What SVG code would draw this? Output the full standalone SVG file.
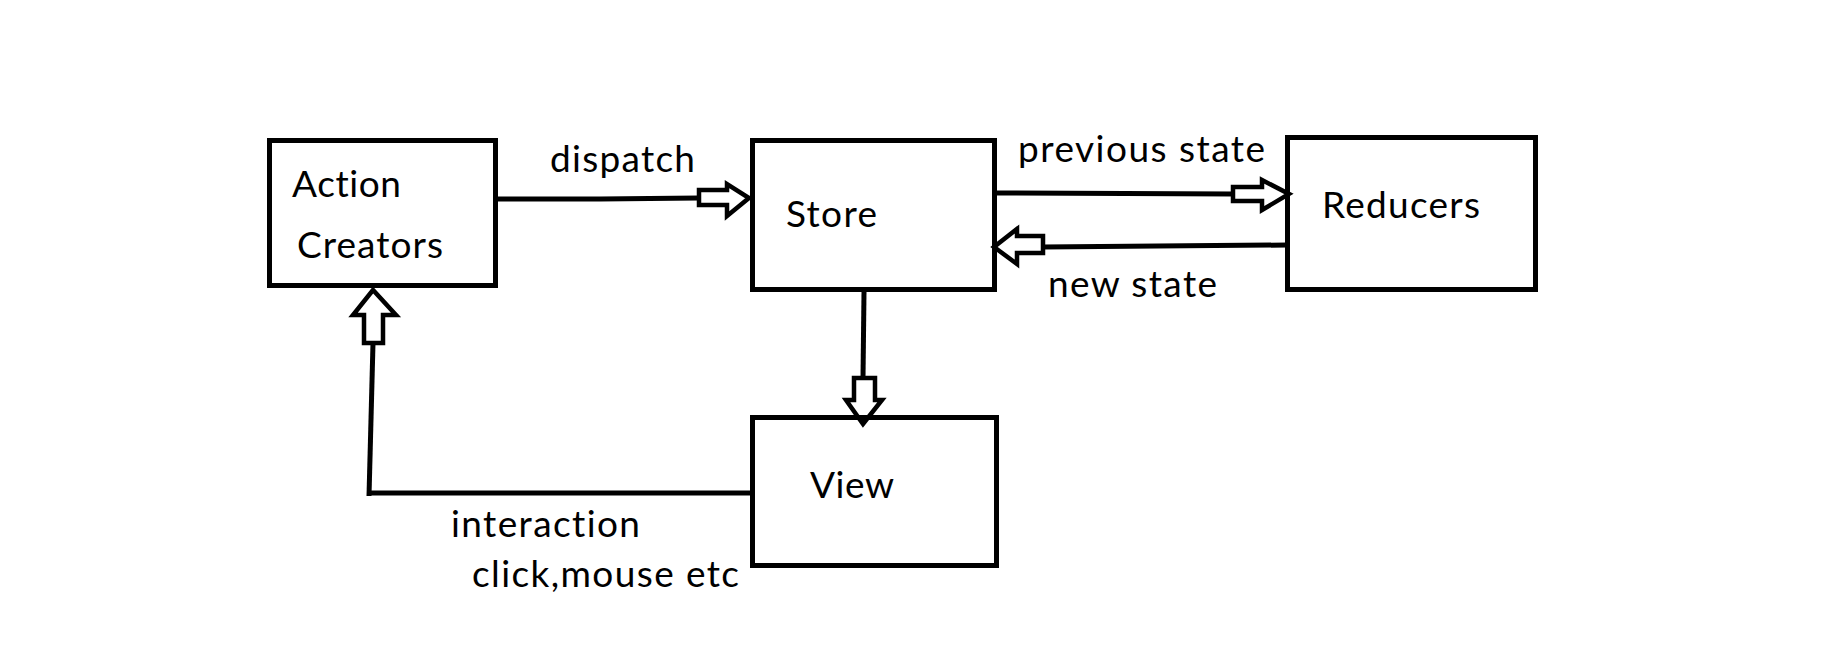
<svg xmlns="http://www.w3.org/2000/svg" width="1833" height="648" viewBox="0 0 1833 648">
<style>
.box{fill:none;stroke:#000;stroke-width:5}
.ln{fill:none;stroke:#000;stroke-width:5;stroke-linecap:butt}
.ar{fill:#fff;stroke:#000;stroke-width:4.5;stroke-linejoin:miter}
text{font-family:Lato,"Open Sans","Liberation Sans",sans-serif;font-size:37px;fill:#000;font-variant-ligatures:none;font-feature-settings:"liga" 0}
</style>
<rect width="1833" height="648" fill="#fff"/>
<g id="connectors">
<polyline class="ln" points="498,199 600,199 699,198"/>
<polygon class="ar" points="699,190 727,190 727,184 749,198 727,216 727,205 699,205"/>
<polyline class="ln" points="997,193 1233,194"/>
<polygon class="ar" points="1233,187 1262,187 1262,180 1289,194 1262,210 1262,201 1233,201"/>
<polyline class="ln" points="1287,245 1043,247"/>
<polygon class="ar" points="1043,236 1017,236 1017,229 994,247 1017,264 1017,253 1043,253"/>
<polyline class="ln" points="864,292 863,378"/>
<polygon class="ar" points="854,378 854,400 846,400 863,424 882,400 875,400 875,378"/>
<polyline class="ln" points="750,493 369,493"/>
<polyline class="ln" points="369,496 373,343"/>
<polygon class="ar" points="364,343 364,315 353,315 373,290 396,315 383,315 383,343"/>
<text x="550" y="172" textLength="145">dispatch</text>
<text x="1018" y="162" textLength="247">previous state</text>
<text x="1048" y="297" textLength="169">new state</text>
<text x="451" y="537" textLength="189">interaction</text>
<text x="472" y="587" textLength="267">click,mouse etc</text>
</g>
<g id="action-creators">
<rect class="box" x="269.5" y="140.5" width="226" height="145"/>
<text x="292" y="197" textLength="109">Action</text>
<text x="297" y="258" textLength="146">Creators</text>
</g>
<g id="store">
<rect class="box" x="752.5" y="140.5" width="242" height="149"/>
<text x="786" y="227" textLength="91">Store</text>
</g>
<g id="reducers">
<rect class="box" x="1287.5" y="137.5" width="248" height="152"/>
<text x="1322" y="218" textLength="158">Reducers</text>
</g>
<g id="view">
<rect class="box" x="752.5" y="417.5" width="244" height="148"/>
<text x="810" y="498" textLength="84">View</text>
</g>
</svg>
